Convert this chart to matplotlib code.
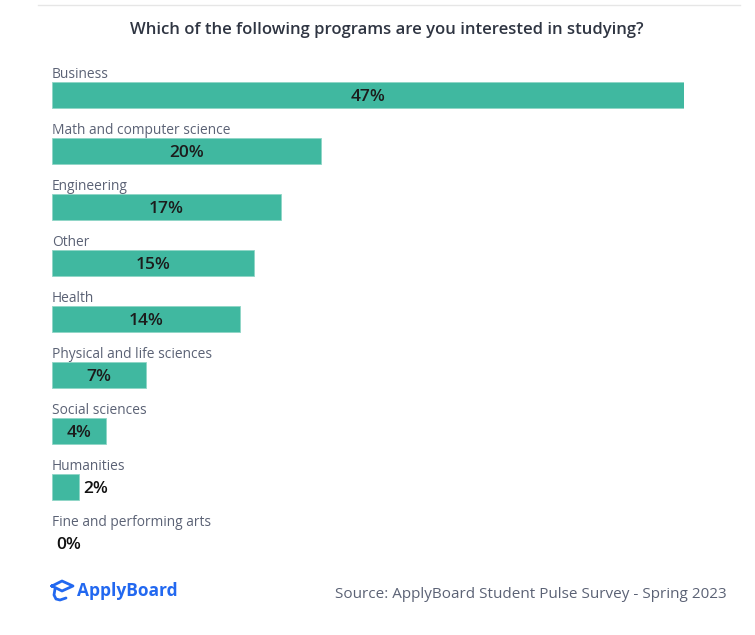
import matplotlib
matplotlib.use("Agg")
import matplotlib.pyplot as plt
from matplotlib.lines import Line2D

plt.rcParams['font.family'] = ['Open Sans', 'DejaVu Sans']

programs = ["Business", "Math and computer science", "Engineering", "Other",
            "Health", "Physical and life sciences", "Social sciences",
            "Humanities", "Fine and performing arts"]
shares = [47, 20, 17, 15, 14, 7, 4, 2, 0]

W, H = 755, 635
bar_color = "#40b8a0"

fig = plt.figure(figsize=(W / 100, H / 100), dpi=100)
fig.patch.set_facecolor("white")

# axes: bars start at x=52, 47% ends at x=684; rows 56px tall from y=67
ax = fig.add_axes([52 / W, 1 - 571 / H, (684 - 52) / W, 504 / H])
ax.set_xlim(0, 47)
ax.set_ylim(len(programs) - 0.5, -0.5)
ax.axis("off")

ypos = list(range(len(programs)))
widths = [0.6 if v > 0 else 0 for v in shares]
ax.barh(ypos, shares, height=26 / 56, color=bar_color, edgecolor="#8fd6c6", linewidth=widths)

for y, name, v in zip(ypos, programs, shares):
    ax.text(0, y - 0.37, name, ha="left", va="center", fontsize=9.9, color="#5b6275")
    if v >= 4:
        ax.text(v / 2, y + 0.04, f"{v}%", ha="center", va="center", fontsize=12.5,
                fontweight="semibold", color="#1c1c1c")
    else:
        ax.text(v + 0.3, y + 0.04, f"{v}%", ha="left", va="center", fontsize=12.5,
                fontweight="semibold", color="#111111")

fig.text(387 / W, 1 - 30 / H, "Which of the following programs are you interested in studying?",
         ha="center", va="center", fontsize=12, fontweight="semibold", color="#2f3542")

fig.add_artist(Line2D([38 / W, 740 / W], [1 - 5 / H, 1 - 5 / H], color="#e6e6e6", lw=1,
                      transform=fig.transFigure))

fig.text(727 / W, 1 - 594 / H, "Source: ApplyBoard Student Pulse Survey - Spring 2023",
         ha="right", va="center", fontsize=11, color="#5b6275")

# logo
blue = "#2268f0"
fig.text(77 / W, 1 - 591 / H, "ApplyBoard", ha="left", va="center", fontsize=12.5,
         fontweight="bold", color=blue)
cap_x = [52, 62, 73, 62, 52]
cap_y = [586, 581, 586, 591, 586]
fig.add_artist(Line2D([x / W for x in cap_x], [1 - y / H for y in cap_y], color=blue, lw=2,
                      transform=fig.transFigure, solid_joinstyle="round"))
hook_x = [55, 54, 56, 60, 66]
hook_y = [589, 595, 599, 600, 598]
fig.add_artist(Line2D([x / W for x in hook_x], [1 - y / H for y in hook_y], color=blue, lw=2,
                      transform=fig.transFigure, solid_capstyle="round"))

fig.savefig("out.png", dpi=100, facecolor="white")
